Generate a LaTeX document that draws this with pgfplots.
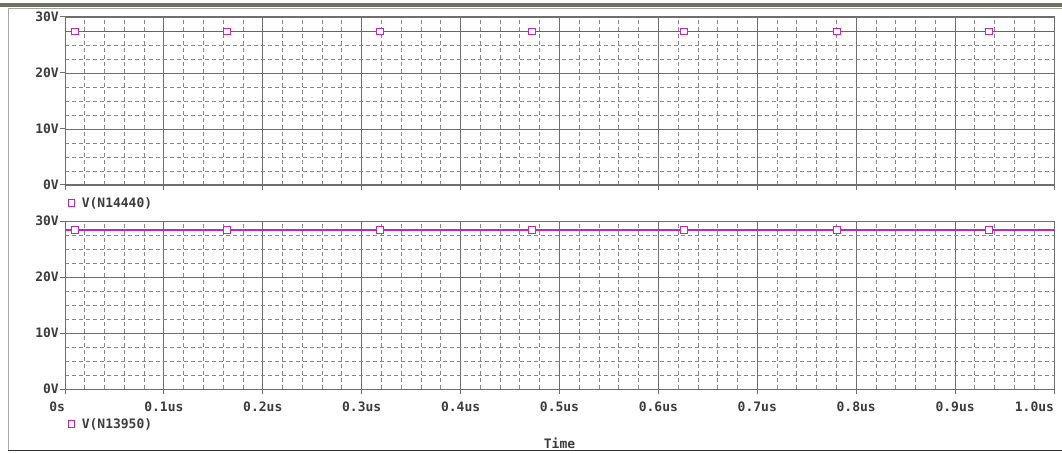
\documentclass[border=0pt]{standalone}
\usepackage{fontspec}
\setmainfont{DejaVu Sans Mono}
\usepackage{pgfplots}
\pgfplotsset{compat=1.18}
\definecolor{tracecol}{RGB}{190,40,190}
\definecolor{gridc}{RGB}{135,135,135}
\definecolor{axc}{RGB}{110,110,110}
\definecolor{txt}{RGB}{60,60,60}
\definecolor{frametop}{RGB}{112,112,96}
\newcommand{\pfont}{\bfseries\fontsize{13}{13}\selectfont}
\pgfplotstableread{
x y
0 27.4
0.0101 27.4
0.1638 27.4
0.3185 27.4
0.4722 27.4
0.6259 27.4
0.7806 27.4
0.9343 27.4
1 27.4
}\tabA
\pgfplotstableread{
x y
0 28.4
0.0101 28.4
0.1638 28.4
0.3185 28.4
0.4722 28.4
0.6259 28.4
0.7806 28.4
0.9343 28.4
1 28.4
}\tabB
\pgfplotsset{psp/.style={
  scale only axis, width=989pt, height=168pt,
  xmin=0, xmax=1, ymin=0, ymax=30,
  xtick={0,0.1,0.2,0.3,0.4,0.5,0.6,0.7,0.8,0.9,1.0},
  minor x tick num=4,
  ytick={0,10,20,30}, minor y tick num=3,
  yticklabels={0V,10V,20V,30V},
  grid=both,
  major grid style={axc, line width=0.9pt},
  minor grid style={gridc, line width=0.9pt, dash pattern=on 4pt off 3pt},
  axis line style={axc, line width=1pt},
  tick style={axc, line width=1pt},
  tick align=outside, major tick length=5pt, minor tick length=0pt,
  xtick pos=bottom, ytick pos=left,
  ticklabel style={font=\pfont, text=txt},
  yticklabel style={inner sep=1pt},
  legend image code/.code={\draw[#1, mark indices={1}] plot coordinates {(4pt,0pt)};},
  legend style={draw=none, fill=none, inner sep=0pt, font=\pfont, text=txt,
    /tikz/every odd column/.append style={column sep=5pt}},
  legend cell align=left,
  trc/.style={draw=tracecol, color=tracecol, line width=1.4pt, mark=square*, mark size=3.3pt,
    mark indices={2,3,4,5,6,7,8},
    mark options={draw=tracecol, fill=white, line width=1.2pt, solid}},
}}
\begin{document}
\begin{tikzpicture}[x=1pt,y=1pt]
\useasboundingbox (0,0) rectangle (1062,453);
\fill[frametop] (0,446) rectangle (1062,449.5);
\draw[gray!70, line width=1pt] (8,2.5) -- (8,444.7) -- (1062,444.7);
\draw[black!80, line width=1.5pt] (8,2.5) -- (1062,2.5);
\begin{axis}[psp, at={(65pt,268pt)}, anchor=south west,
  xticklabels={{},{},{},{},{},{},{},{},{},{},{}},
  legend style={at={(axis description cs:0.003,-0.107)}, anchor=west}]
\addplot[trc] table {\tabA};
\addlegendentry{V(N14440)}
\end{axis}
\begin{axis}[psp, at={(65pt,64pt)}, anchor=south west,
  xticklabels={\makebox[0pt][r]{0s},0.1us,0.2us,0.3us,0.4us,0.5us,0.6us,0.7us,0.8us,0.9us,\makebox[0pt][r]{1.0us}},
  xticklabel style={inner sep=2pt, yshift=-6pt},
  xlabel={Time},
  xlabel style={at={(axis description cs:0.5,-0.321)}, anchor=center, font=\pfont, text=txt},
  legend style={at={(axis description cs:0.003,-0.208)}, anchor=west}]
\addplot[trc] table {\tabB};
\addlegendentry{V(N13950)}
\node[anchor=east, font=\pfont, text=txt, inner sep=1pt] at (axis description cs:-0.003,0.065) {SEL>>};
\end{axis}
\end{tikzpicture}
\end{document}
